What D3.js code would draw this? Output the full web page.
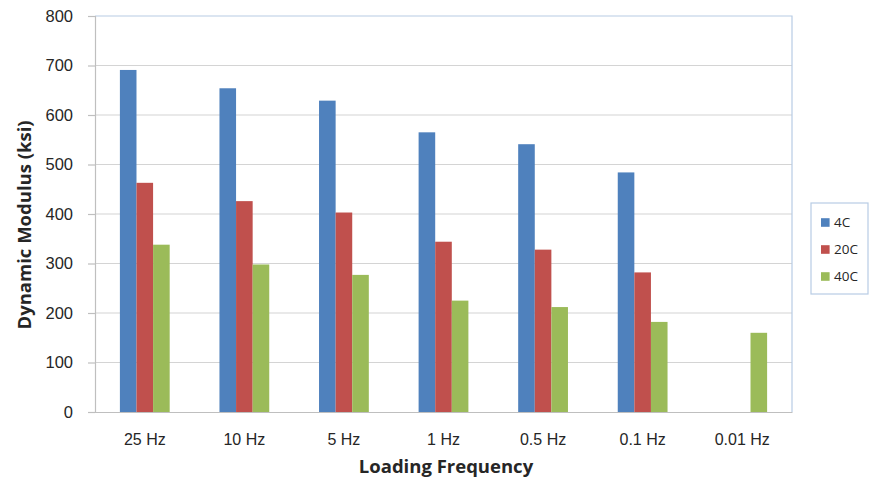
<!DOCTYPE html>
<html>
<head>
<meta charset="utf-8">
<script src="https://cdn.jsdelivr.net/npm/d3@7"></script>
<style>
  body { margin: 0; background: #fff; }
  svg { display: block; font-family: "Open Sans", "Liberation Sans", sans-serif; }
</style>
</head>
<body>
<svg id="chart" width="872" height="479"></svg>
<script>
// Loading frequencies on the x axis
const categories = ["25 Hz", "10 Hz", "5 Hz", "1 Hz", "0.5 Hz", "0.1 Hz", "0.01 Hz"];
// Dynamic modulus (ksi) per test temperature; null = not tested
const series4C  = [691, 654, 629, 565, 541, 484, null];
const series20C = [463, 426, 403, 344, 328, 282, null];
const series40C = [338, 298, 277, 225, 212, 182, 160];
const seriesNames = ["4C", "20C", "40C"];
const seriesColors = ["#4F81BD", "#C0504D", "#9BBB59"];
const yTicks = [0, 100, 200, 300, 400, 500, 600, 700, 800];

const seriesValues = [series4C, series20C, series40C];
const svg = d3.select("#chart");
const plot = { left: 95, right: 792, top: 16, bottom: 412 };

const x = d3.scaleBand().domain(categories).range([plot.left, plot.right]).paddingInner(0.5).paddingOuter(0.25);
const xs = d3.scaleBand().domain(seriesNames).range([0, x.bandwidth()]);
const y = d3.scaleLinear().domain([0, 800]).range([plot.bottom, plot.top]);

// horizontal gridlines
svg.append("g").selectAll("line").data(yTicks.filter(d => d > 0 && d < 800)).join("line")
  .attr("x1", plot.left).attr("x2", plot.right)
  .attr("y1", d => y(d)).attr("y2", d => y(d))
  .attr("stroke", "#D4D4D4").attr("stroke-width", 1.2);

// plot frame (top and right)
svg.append("path")
  .attr("d", `M${plot.left},${plot.top}H${plot.right}V${plot.bottom}`)
  .attr("fill", "none").attr("stroke", "#B8CCE4").attr("stroke-width", 1.2);

// bars
const groups = svg.append("g").selectAll("g").data(categories).join("g")
  .attr("transform", d => `translate(${x(d)},0)`);
groups.selectAll("rect")
  .data((c, i) => seriesNames.map((s, k) => ({ s, v: seriesValues[k][i], color: seriesColors[k] })).filter(d => d.v != null))
  .join("rect")
  .attr("x", d => xs(d.s)).attr("width", xs.bandwidth())
  .attr("y", d => y(d.v)).attr("height", d => y(0) - y(d.v))
  .attr("fill", d => d.color);

// y axis
const yAxis = svg.append("g").attr("transform", `translate(${plot.left},0)`)
  .call(d3.axisLeft(y).tickValues(yTicks).tickSize(7).tickPadding(15));
yAxis.select(".domain").attr("stroke", "#BFBFBF").attr("stroke-width", 1.2);
yAxis.selectAll(".tick line").attr("stroke", "#BFBFBF").attr("stroke-width", 1.2);
yAxis.selectAll("text").attr("font-size", 16.5).attr("fill", "#262626");

// x axis
const xAxis = svg.append("g").attr("transform", `translate(0,${plot.bottom})`)
  .call(d3.axisBottom(x).tickSize(0).tickPadding(22));
xAxis.select(".domain").attr("stroke", "#BFBFBF").attr("stroke-width", 1.2);
xAxis.selectAll("text").attr("font-size", 16).attr("fill", "#262626");

// axis titles
svg.append("text").attr("x", 446).attr("y", 473)
  .attr("text-anchor", "middle").attr("font-size", 18.5).attr("font-weight", "bold").attr("fill", "#262626")
  .text("Loading Frequency");
svg.append("text").attr("transform", "translate(31,225) rotate(-90)")
  .attr("text-anchor", "middle").attr("font-size", 18.5).attr("font-weight", "bold").attr("fill", "#262626")
  .text("Dynamic Modulus (ksi)");

// legend
const legend = svg.append("g").attr("transform", "translate(811,203)");
legend.append("rect").attr("width", 57).attr("height", 91)
  .attr("fill", "#fff").attr("stroke", "#B8CCE4").attr("stroke-width", 1.2);
const items = legend.selectAll("g").data(seriesNames).join("g")
  .attr("transform", (d, i) => `translate(10,${19.5 + i * 27})`);
items.append("rect").attr("x", 0).attr("y", -4.3).attr("width", 8.6).attr("height", 8.6)
  .attr("fill", (d, i) => seriesColors[i]);
items.append("text").attr("x", 13).attr("y", 0).attr("dy", "0.36em")
  .attr("font-size", 13.5).attr("fill", "#262626").text(d => d);
</script>
</body>
</html>
